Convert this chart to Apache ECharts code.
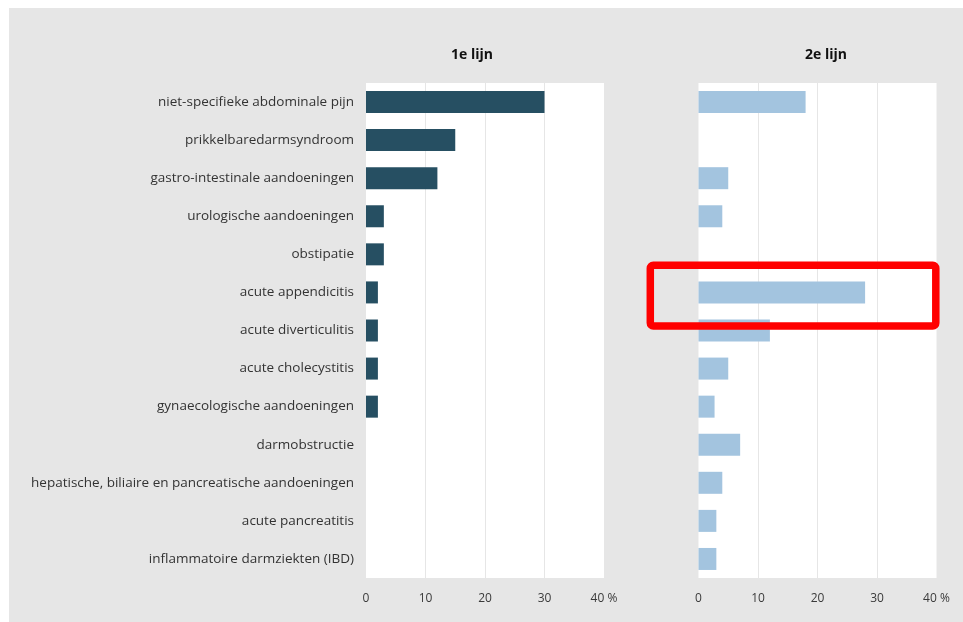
<!DOCTYPE html>
<html>
<head>
<meta charset="utf-8">
<script src="https://cdn.jsdelivr.net/npm/echarts@6/dist/echarts.min.js"></script>
<style>
html,body{margin:0;padding:0;background:#fff;}
#chart{position:absolute;left:9px;top:8px;width:954px;height:614px;}
</style>
</head>
<body>
<div id="chart"></div>
<script>
const categories = [
  "niet-specifieke abdominale pijn",
  "prikkelbaredarmsyndroom",
  "gastro-intestinale aandoeningen",
  "urologische aandoeningen",
  "obstipatie",
  "acute appendicitis",
  "acute diverticulitis",
  "acute cholecystitis",
  "gynaecologische aandoeningen",
  "darmobstructie",
  "hepatische, biliaire en pancreatische aandoeningen",
  "acute pancreatitis",
  "inflammatoire darmziekten (IBD)"
];
const firstLine = [30, 15, 12, 3, 3, 2, 2, 2, 2, 0, 0, 0, 0];
const secondLine = [18, 0, 5, 4, 0, 28, 12, 5, 2.7, 7, 4, 3, 3];
const panelTitles = ["1e lijn", "2e lijn"];
const xTicks = [0, 10, 20, 30, 40];
const highlightCategory = "acute appendicitis";

const FONT = "'Open Sans', 'Noto Sans', sans-serif";
const chart = echarts.init(document.getElementById('chart'));

function xAxis(gi) {
  return {
    type: 'value', gridIndex: gi, min: xTicks[0], max: xTicks[xTicks.length - 1], interval: 10,
    axisLine: {show: false}, axisTick: {show: false},
    axisLabel: {
      margin: 15, color: '#3a3a3a', fontFamily: FONT, fontSize: 12,
      formatter: v => v === 40 ? '40 %' : String(v)
    },
    splitLine: {show: true, showMinLine: false, showMaxLine: false, lineStyle: {color: '#e6e6e6', width: 1}}
  };
}
function yAxis(gi, showLabels) {
  return {
    type: 'category', gridIndex: gi, data: categories, inverse: true,
    axisLine: {show: false}, axisTick: {show: false}, splitLine: {show: false},
    axisLabel: {show: showLabels, margin: 12, color: '#333', fontFamily: FONT, fontSize: 13.5}
  };
}

chart.setOption({
  backgroundColor: '#e6e6e6',
  animation: false,
  title: [
    {text: panelTitles[0], left: 437, top: 35, textStyle: {fontFamily: FONT, fontSize: 14, fontWeight: 'bold', color: '#111'}},
    {text: panelTitles[1], left: 791, top: 35, textStyle: {fontFamily: FONT, fontSize: 14, fontWeight: 'bold', color: '#111'}}
  ],
  grid: [
    {left: 357, top: 75, width: 238, height: 495, show: true, backgroundColor: '#fff', borderWidth: 0},
    {left: 689.5, top: 75, width: 238, height: 495, show: true, backgroundColor: '#fff', borderWidth: 0}
  ],
  xAxis: [xAxis(0), xAxis(1)],
  yAxis: [yAxis(0, true), yAxis(1, false)],
  series: [
    {type: 'bar', xAxisIndex: 0, yAxisIndex: 0, data: firstLine, barWidth: 22,
     itemStyle: {color: '#264f62'}},
    {type: 'bar', xAxisIndex: 1, yAxisIndex: 1, data: secondLine, barWidth: 22,
     itemStyle: {color: '#a3c4df'}}
  ]
});

// Annotation box around the highlighted category in the 2nd panel
const idx = categories.indexOf(highlightCategory);
const c = chart.convertToPixel({gridIndex: 1}, [0, idx]);
const g = chart.getModel().getComponent('grid', 1).coordinateSystem.getRect();
chart.setOption({
  graphic: [{
    type: 'rect', z: 100,
    shape: {x: g.x - 48.2, y: c[1] - 27.1, width: 285.5, height: 60.7, r: 3},
    style: {fill: 'none', stroke: '#ff0000', lineWidth: 7.5}
  }]
});
</script>
</body>
</html>
